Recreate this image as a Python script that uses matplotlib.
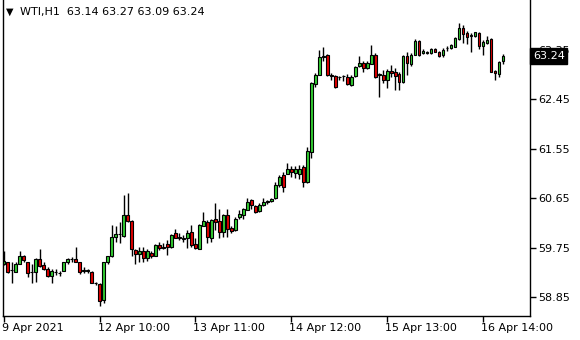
import numpy as np
import matplotlib
matplotlib.use("Agg")
import matplotlib.pyplot as plt
import matplotlib.transforms as mtransforms

# WTI H1 candles
opens = [59.45, 59.48, 59.35, 59.31, 59.45, 59.60, 59.49, 59.31, 59.31, 59.54,
         59.43, 59.37, 59.23, 59.31, 59.29, 59.33, 59.48, 59.54, 59.54, 59.48,
         59.33, 59.33, 59.31, 59.10, 59.09, 58.80, 59.48, 59.59, 59.95, 59.99,
         59.97, 60.34, 60.24, 59.70, 59.64, 59.68, 59.57, 59.65, 59.60, 59.80,
         59.77, 59.82, 59.76, 60.01, 59.95, 59.91, 59.92, 60.04, 59.82, 59.72,
         60.15, 60.22, 59.92, 60.27, 60.24, 60.04, 60.34, 60.10, 60.07, 60.31,
         60.34, 60.43, 60.61, 60.50, 60.41, 60.52, 60.58, 60.60, 60.65, 60.89,
         61.08, 61.10, 61.18, 61.11, 61.10, 61.22, 60.94, 61.50, 62.73, 62.90,
         63.22, 63.26, 62.90, 62.88, 62.85, 62.87, 62.86, 62.71, 62.87, 63.06,
         63.12, 63.03, 63.09, 63.26, 62.90, 62.89, 62.80, 62.97, 62.95, 62.92,
         62.77, 63.24, 63.10, 63.26, 63.52, 63.29, 63.30, 63.29, 63.36, 63.32,
         63.25, 63.38, 63.38, 63.41, 63.55, 63.75, 63.65, 63.61, 63.61, 63.65,
         63.43, 63.47, 63.55, 62.97, 62.91, 63.14]
highs = [59.69, 59.49, 59.49, 59.48, 59.69, 59.62, 59.49, 59.46, 59.56, 59.72,
         59.48, 59.40, 59.36, 59.36, 59.33, 59.49, 59.56, 59.58, 59.77, 59.49,
         59.40, 59.37, 59.33, 59.13, 59.11, 59.49, 59.60, 60.16, 60.15, 60.22,
         60.71, 60.74, 60.25, 59.72, 59.77, 59.77, 59.72, 59.68, 59.81, 59.86,
         59.83, 59.89, 60.00, 60.09, 60.01, 59.98, 60.07, 60.16, 59.92, 60.18,
         60.39, 60.25, 60.28, 60.57, 60.45, 60.37, 60.45, 60.14, 60.31, 60.43,
         60.47, 60.65, 60.63, 60.52, 60.57, 60.65, 60.62, 60.66, 60.95, 61.07,
         61.13, 61.29, 61.24, 61.24, 61.25, 61.25, 61.59, 62.77, 62.93, 63.35,
         63.41, 63.27, 62.93, 62.89, 62.88, 62.89, 62.91, 62.89, 63.05, 63.24,
         63.15, 63.14, 63.44, 63.29, 62.93, 62.98, 63.00, 63.08, 63.02, 62.95,
         63.26, 63.32, 63.30, 63.55, 63.54, 63.37, 63.33, 63.39, 63.38, 63.34,
         63.39, 63.42, 63.46, 63.59, 63.84, 63.81, 63.70, 63.65, 63.68, 63.67,
         63.53, 63.61, 63.57, 62.99, 63.14, 63.27]
lows = [59.43, 59.29, 59.10, 59.31, 59.45, 59.49, 59.22, 59.10, 59.13, 59.40,
        59.34, 59.22, 59.10, 59.25, 59.23, 59.33, 59.46, 59.49, 59.48, 59.27,
        59.28, 59.28, 59.10, 59.07, 58.69, 58.75, 59.46, 59.58, 59.86, 59.83,
        59.95, 60.22, 59.60, 59.46, 59.49, 59.49, 59.50, 59.57, 59.60, 59.71,
        59.73, 59.62, 59.74, 59.92, 59.89, 59.86, 59.74, 59.77, 59.72, 59.72,
        60.15, 59.84, 59.86, 60.07, 59.92, 59.94, 59.94, 60.02, 60.05, 60.28,
        60.28, 60.43, 60.45, 60.38, 60.40, 60.51, 60.55, 60.58, 60.63, 60.86,
        60.76, 61.09, 61.04, 61.01, 61.00, 60.86, 60.93, 61.39, 62.68, 62.90,
        63.14, 62.88, 62.81, 62.66, 62.80, 62.79, 62.72, 62.69, 62.86, 63.04,
        62.94, 63.01, 63.09, 62.84, 62.49, 62.74, 62.65, 62.86, 62.63, 62.62,
        62.75, 62.90, 63.06, 63.26, 63.24, 63.28, 63.28, 63.28, 63.31, 63.22,
        63.23, 63.33, 63.36, 63.40, 63.54, 63.47, 63.45, 63.31, 63.59, 63.37,
        63.25, 63.45, 62.94, 62.80, 62.86, 63.09]
closes = [59.51, 59.31, 59.34, 59.46, 59.60, 59.53, 59.29, 59.30, 59.54, 59.42,
          59.37, 59.24, 59.32, 59.30, 59.29, 59.48, 59.54, 59.54, 59.49, 59.31,
          59.33, 59.33, 59.10, 59.10, 58.78, 59.48, 59.59, 59.94, 59.99, 59.99,
          60.34, 60.24, 59.72, 59.64, 59.69, 59.57, 59.68, 59.59, 59.80, 59.74,
          59.75, 59.76, 59.98, 59.93, 59.93, 59.92, 60.01, 59.80, 59.75, 60.16,
          60.23, 59.94, 60.25, 60.21, 60.03, 60.34, 60.09, 60.05, 60.28, 60.37,
          60.46, 60.59, 60.53, 60.40, 60.52, 60.58, 60.60, 60.64, 60.89, 61.04,
          60.86, 61.19, 61.12, 61.18, 61.19, 60.95, 61.51, 62.74, 62.90, 63.22,
          63.24, 62.90, 62.88, 62.68, 62.85, 62.87, 62.73, 62.86, 63.04, 63.11,
          63.03, 63.12, 63.26, 62.86, 62.90, 62.80, 62.97, 62.93, 62.87, 62.77,
          63.24, 63.11, 63.26, 63.52, 63.26, 63.34, 63.30, 63.36, 63.32, 63.24,
          63.35, 63.38, 63.44, 63.57, 63.75, 63.64, 63.59, 63.61, 63.67, 63.43,
          63.50, 63.53, 62.94, 62.93, 63.13, 63.24]

price_ticks = [58.85, 59.75, 60.65, 61.55, 62.45, 63.35]
time_tick_bars = [0, 24, 48, 72, 96, 120]
time_tick_labels = ["9 Apr 2021", "12 Apr 10:00", "13 Apr 11:00",
                    "14 Apr 12:00", "15 Apr 13:00", "16 Apr 14:00"]
symbol = "WTI,H1"

o = np.array(opens)
h = np.array(highs)
l = np.array(lows)
c = np.array(closes)
x = np.arange(len(o))

fig = plt.figure(figsize=(5.8, 3.4), dpi=100)
ax = fig.add_axes([3 / 580, 24 / 340, 527 / 580, 316 / 340])

# wicks
ax.vlines(x, l, h, color="black", linewidth=1.0, zorder=1)

# bodies
up = c >= o
colors = np.where(up, "#32cd32", "#e00000")
bottoms = np.minimum(o, c)
heights = np.maximum(np.abs(c - o), 0.004)
ax.bar(x, heights, bottom=bottoms, width=0.6, color=colors,
       edgecolor="black", linewidth=0.8, zorder=2)

ax.set_xlim(-0.15, 131.7)
ax.set_ylim(58.505, 64.26)

ax.spines["top"].set_visible(False)
for s in ["left", "bottom", "right"]:
    ax.spines[s].set_linewidth(1.0)

ax.yaxis.tick_right()
ax.set_yticks(price_ticks)
ax.set_yticklabels([f"{p:.2f}" for p in price_ticks])
ax.set_xticks(time_tick_bars)
ax.set_xticklabels(time_tick_labels, ha="left")
ax.tick_params(axis="both", direction="out", length=4, width=1,
               labelsize=8, colors="black", pad=2)
ax.tick_params(axis="x", pad=1)
for lab in ax.get_xticklabels():
    lab.set_transform(lab.get_transform() +
                      mtransforms.ScaledTranslation(-2 / 100, 0, fig.dpi_scale_trans))

# last price box, covers the 63.35 label like in the terminal
ax.annotate(f"{closes[-1]:.2f}", xy=(1, closes[-1]),
            xycoords=("axes fraction", "data"),
            xytext=(2, 0), textcoords="offset points",
            ha="left", va="center", fontsize=8, color="white", zorder=5,
            bbox=dict(boxstyle="square,pad=0.25", fc="black", ec="black"),
            annotation_clip=False)

# header
fig.text(6 / 580, 1 - 12 / 340, "\u25bc", fontsize=7, va="center", ha="left")
fig.text(20 / 580, 1 - 12 / 340,
         f"{symbol}  {opens[-1]:.2f} {highs[-1]:.2f} {lows[-1]:.2f} {closes[-1]:.2f}",
         fontsize=8, va="center", ha="left")

fig.savefig("out.png", dpi=100)
